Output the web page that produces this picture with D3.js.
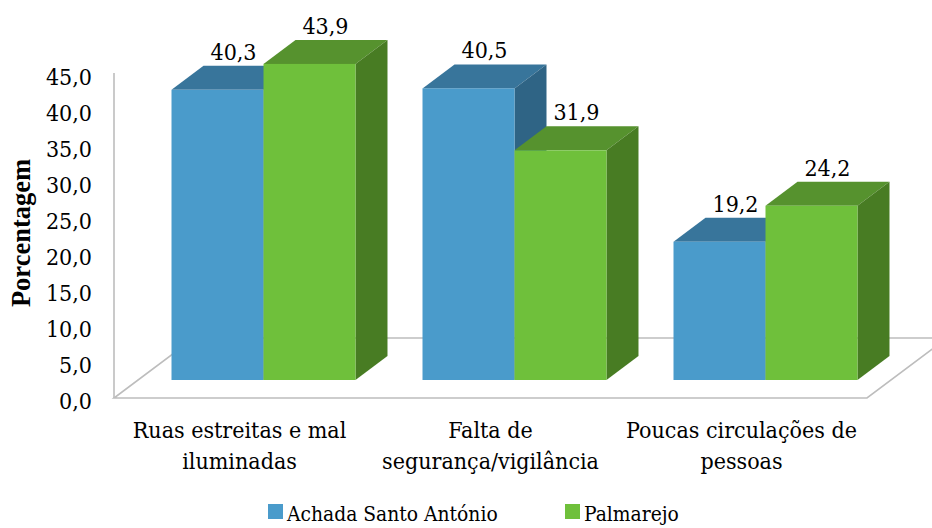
<!DOCTYPE html>
<html>
<head>
<meta charset="utf-8">
<script src="https://cdn.jsdelivr.net/npm/d3@7"></script>
<style>
  body { margin: 0; background: #fff; }
  svg text { font-family: "DejaVu Serif Condensed", "DejaVu Serif", serif; fill: #000; }
  svg text.title { font-family: "Liberation Serif", "Times New Roman", serif; font-weight: bold; }
</style>
</head>
<body>
<div id="chart"></div>
<script>
// data
var categories = [
    ["Ruas estreitas e mal", "iluminadas"],
    ["Falta de", "segurança/vigilância"],
    ["Poucas circulações de", "pessoas"]
];
var seriesNames = ["Achada Santo António", "Palmarejo"];
var achadaValues = [40.3, 40.5, 19.2];
var palmarejoValues = [43.9, 31.9, 24.2];
var yTicks = [0, 5, 10, 15, 20, 25, 30, 35, 40, 45];

var colors = [
    { front: "#4a9bcb", top: "#38759b", side: "#2f6485" },
    { front: "#6fc03b", top: "#56922e", side: "#487c23" }
];

var width = 932, height = 528;
var fontSize = "23px";

var svg = d3.select("#chart")
    .append("svg")
    .attr("width", width)
    .attr("height", height);

// front plane of the floor
var x0 = d3.scaleBand()
    .domain(d3.range(categories.length))
    .range([114, 867])
    .paddingInner(0.267)
    .paddingOuter(0.1335);

var x1 = d3.scaleBand()
    .domain(d3.range(seriesNames.length))
    .range([0, x0.bandwidth()]);

var y = d3.scaleLinear().domain([0, 45]).range([398, 74]);

// oblique depth: full floor depth, and where the bars sit in it
var depth = { dx: 80, dy: -60 };
var barFront = 0.3, barBack = 0.7;

// floor outline
var floor = [
    [x0.range()[0], y(0)],
    [x0.range()[1], y(0)],
    [x0.range()[1] + depth.dx, y(0) + depth.dy],
    [x0.range()[0] + depth.dx, y(0) + depth.dy]
];
svg.append("path")
    .attr("d", d3.line()(floor) + "Z")
    .attr("fill", "none")
    .attr("stroke", "#bdbdbd")
    .attr("stroke-width", 1.6);

// left wall edge
svg.append("line")
    .attr("x1", 114).attr("x2", 114)
    .attr("y1", 73).attr("y2", y(0))
    .attr("stroke", "#bdbdbd")
    .attr("stroke-width", 1.6);

// y tick labels
svg.append("g")
    .selectAll("text")
    .data(yTicks)
    .enter()
    .append("text")
    .attr("x", 92)
    .attr("y", d => y(d) + 3)
    .attr("text-anchor", "end")
    .attr("dy", "0.35em")
    .style("font-size", fontSize)
    .text(d => d.toFixed(1).replace(".", ","));

// axis title
svg.append("text")
    .attr("class", "title")
    .attr("transform", "translate(30, 233) rotate(-90)")
    .attr("text-anchor", "middle")
    .style("font-size", "26.5px")
    .text("Porcentagem");

// bars, drawn left to right so nearer faces cover the ones behind
var bars = [];
categories.forEach(function (c, i) {
    [achadaValues, palmarejoValues].forEach(function (vals, s) {
        bars.push({ cat: i, series: s, value: vals[i] });
    });
});

var fx = barFront * depth.dx, fy = barFront * depth.dy;
var bx = (barBack - barFront) * depth.dx, by = (barBack - barFront) * depth.dy;

var barG = svg.append("g")
    .selectAll("g")
    .data(bars)
    .enter()
    .append("g");

barG.each(function (d) {
    var g = d3.select(this);
    var left = x0(d.cat) + x1(d.series) + fx;
    var right = left + x1.bandwidth();
    var base = y(0) + fy;
    var top = y(d.value) + fy;
    var c = colors[d.series];

    g.append("path")
        .attr("d", d3.line()([[left, top], [right, top], [right + bx, top + by], [left + bx, top + by]]) + "Z")
        .attr("fill", c.top);
    g.append("path")
        .attr("d", d3.line()([[right, top], [right + bx, top + by], [right + bx, base + by], [right, base]]) + "Z")
        .attr("fill", c.side);
    g.append("rect")
        .attr("x", left)
        .attr("y", top)
        .attr("width", right - left)
        .attr("height", base - top)
        .attr("fill", c.front);
});

// value labels above the back edge of each top face
svg.append("g")
    .selectAll("text")
    .data(bars)
    .enter()
    .append("text")
    .attr("x", d => x0(d.cat) + x1(d.series) + x1.bandwidth() / 2 + fx + bx / 2)
    .attr("y", d => y(d.value) + fy + by - 6)
    .attr("text-anchor", "middle")
    .style("font-size", fontSize)
    .text(d => d.value.toFixed(1).replace(".", ","));

// category labels, two lines each, centred under each third of the floor
var catG = svg.append("g")
    .selectAll("g")
    .data(categories)
    .enter()
    .append("g")
    .attr("transform", (d, i) => `translate(${x0(i) + x0.bandwidth() / 2}, 438)`);

catG.selectAll("text")
    .data(d => d)
    .enter()
    .append("text")
    .attr("y", (d, j) => j * 31)
    .attr("text-anchor", "middle")
    .style("font-size", fontSize)
    .text(d => d);

// legend
var legendX = [268, 565];
var legend = svg.append("g")
    .selectAll("g")
    .data(seriesNames)
    .enter()
    .append("g")
    .attr("transform", (d, i) => `translate(${legendX[i]}, 504)`);

legend.append("rect")
    .attr("width", 15)
    .attr("height", 15)
    .attr("fill", (d, i) => colors[i].front);

legend.append("text")
    .attr("x", 19)
    .attr("y", 17)
    .style("font-size", "20.8px")
    .text(d => d);
</script>
</body>
</html>
